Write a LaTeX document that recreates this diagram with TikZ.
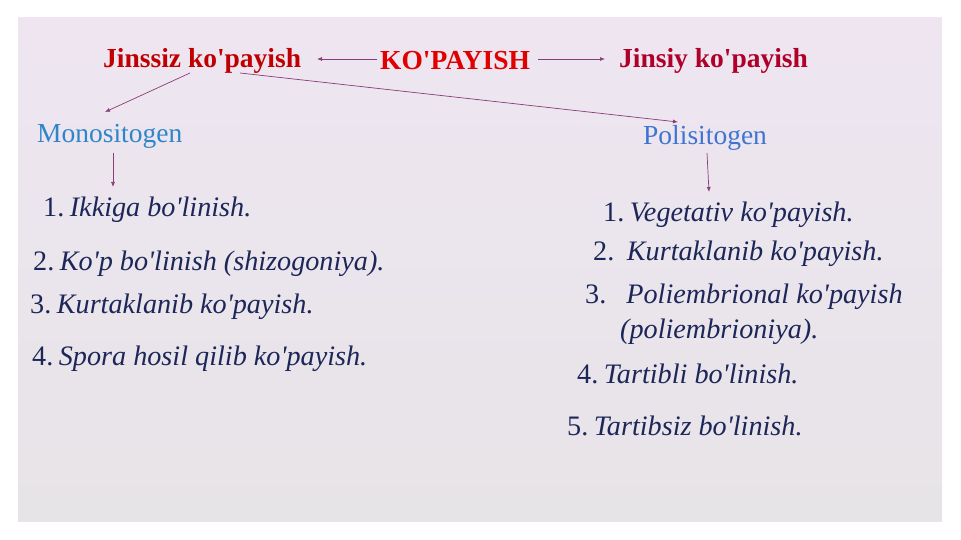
\documentclass[tikz,border=0pt]{standalone}
\usepackage{fontspec}
\setmainfont{Liberation Serif}[Ligatures=TeXOff]
\definecolor{bgtop}{HTML}{EEE5F1}
\definecolor{bgbot}{HTML}{E7E4E7}
\definecolor{redA}{HTML}{C00000}
\definecolor{redB}{HTML}{E00000}
\definecolor{redC}{HTML}{B0002A}
\definecolor{blueA}{HTML}{2E86C8}
\definecolor{blueB}{HTML}{3F74D0}
\definecolor{navy}{HTML}{1C2658}
\definecolor{arrowc}{HTML}{8A3C78}
\usetikzlibrary{arrows.meta}
\tikzset{
  head/.style={anchor=base west,inner sep=0pt,font=\fontsize{27.5}{33}\selectfont\bfseries},
  sub/.style={anchor=base west,inner sep=0pt,font=\fontsize{27.5}{33}\selectfont},
  item/.style={anchor=base west,inner sep=0pt,text=navy,font=\fontsize{28.2}{34}\selectfont\itshape},
  link/.style={arrowc,line width=0.7pt,-{Latex[length=5pt,width=4pt]}}
}
\newcommand{\num}[1]{\textup{#1}\hspace{5.5pt}}
\begin{document}
\begin{tikzpicture}[x=1pt,y=-1pt]
            \useasboundingbox (0,0) rectangle (961,540);
            \shade[top color=bgtop,bottom color=bgbot] (18,18) rectangle (942,521);
            % Nodes
            \node[head,text=redA] (jinssiz) at (103,68){Jinssiz ko'payish};
            \node[head,text=redB] (kop) at (380,70){KO'PAYISH};
            \node[head,text=redC] (jinsiy) at (619,68){Jinsiy ko'payish};
            \node[sub,text=blueA] (mono) at (37,143){Monositogen};
            \node[sub,text=blueB] (poli) at (643,145){Polisitogen};
            \node[item] (m1) at (43,217){\num{1.}Ikkiga bo'linish.};
            \node[item] (m2) at (33,270){\num{2.}Ko'p bo'linish (shizogoniya).};
            \node[item] (m3) at (30,313){\num{3.}Kurtaklanib ko'payish.};
            \node[item] (m4) at (32,365){\num{4.}Spora hosil qilib ko'payish.};
            \node[item] (p1) at (603,222){\num{1.}Vegetativ ko'payish.};
            \node[item] (p2) at (593,260){\num{2.}\ Kurtaklanib ko'payish.};
            \node[item] (p3) at (585,303){\textup{3.}\hspace{20pt}Poliembrional ko'payish};
            \node[item] (p3b) at (620,338){(poliembrioniya).};
            \node[item] (p4) at (577,383){\num{4.}Tartibli bo'linish.};
            \node[item] (p5) at (567,435){\num{5.}Tartibsiz bo'linish.};
            % Edges
            \coordinate (kl) at (377,59);
            \coordinate (kr) at (538,59);
            \coordinate (jl) at (190,73);
            \coordinate (jr) at (240,73);
            \coordinate (mt) at (113,153);
            \coordinate (pt) at (707,153);
            \draw[link] (kl) -- (317,59);
            \draw[link] (kr) -- (605,59);
            \draw[link] (jl) -- (105,112);
            \draw[link] (jr) -- (678,122);
            \draw[link] (mt) -- (113,187);
            \draw[link] (pt) -- (709,192);
        \end{tikzpicture}
\end{document}
